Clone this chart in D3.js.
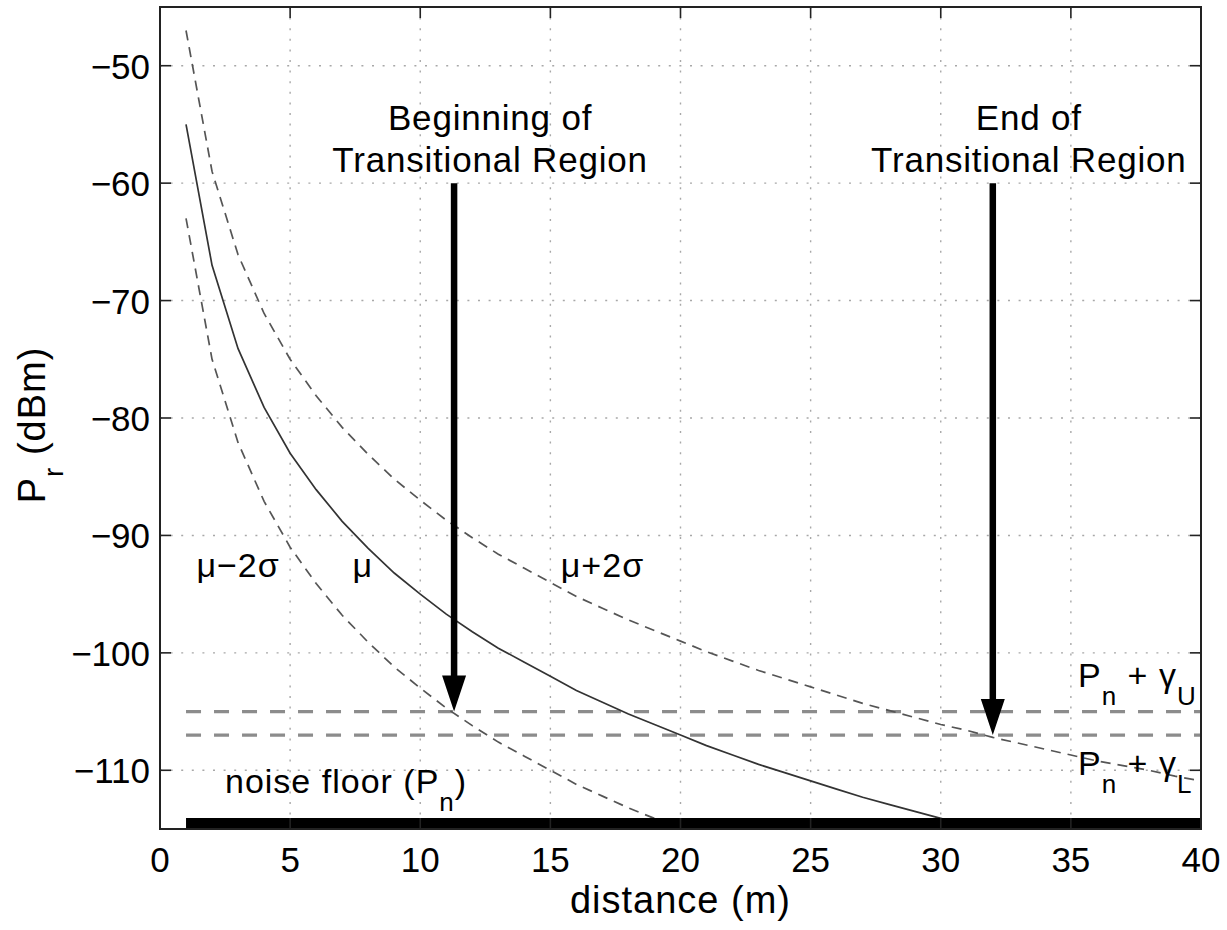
<!DOCTYPE html>
<html>
<head>
<meta charset="utf-8">
<script src="https://cdn.jsdelivr.net/npm/d3@7"></script>
<style>
  html, body { margin: 0; padding: 0; background: #fff; }
  svg { display: block; }
  text { font-family: "Liberation Sans", Arial, Helvetica, sans-serif; fill: #000; }
</style>
</head>
<body>
<svg id="chart" width="1227" height="930"></svg>
<script>
// Received power vs. distance (log-normal shadowing model) with noise-floor thresholds
const distance = [1,2,3,4,5,6,7,8,9,10,11,12,13,14,15,16,17,18,19,20,
                  21,22,23,24,25,26,27,28,29,30,31,32,33,34,35,36,37,38,39,40];
// mean received power, mu (dBm)
const meanPr = [-55.0,-67.0,-74.1,-79.1,-83.0,-86.1,-88.8,-91.1,-93.2,-95.0,
                -96.7,-98.2,-99.6,-100.8,-102.0,-103.2,-104.2,-105.2,-106.1,-107.0,
                -107.9,-108.7,-109.5,-110.2,-110.9,-111.6,-112.3,-112.9,-113.5,-114.1,
                -114.7,-115.2];
// mu + 2 sigma (dBm)
const upperPr = [-47.0,-59.0,-66.1,-71.1,-75.0,-78.1,-80.8,-83.1,-85.2,-87.0,
                 -88.7,-90.2,-91.6,-92.8,-94.0,-95.2,-96.2,-97.2,-98.1,-99.0,
                 -99.9,-100.7,-101.5,-102.2,-102.9,-103.6,-104.3,-104.9,-105.5,-106.1,
                 -106.6,-107.2,-107.7,-108.2,-108.7,-109.2,-109.6,-110.0,-110.5,-110.9];
// mu - 2 sigma (dBm)
const lowerPr = [-63.0,-75.0,-82.1,-87.1,-91.0,-94.1,-96.8,-99.1,-101.2,-103.0,
                 -104.7,-106.2,-107.6,-108.8,-110.0,-111.2,-112.2,-113.2,-114.1,-115.0,
                 -115.9];

const xTicks = [0,5,10,15,20,25,30,35,40];
const yTicks = [-110,-100,-90,-80,-70,-60,-50];
const xDomain = [0, 40];
const yDomain = [-115, -45];

const noiseFloor = -115;
const gammaUpper = -105;   // P_n + gamma_U
const gammaLower = -107;   // P_n + gamma_L
const lineStart = 1, lineEnd = 40;

const regionStarts = [11.3, 32];
const regionArrowTop = [-60, -60];
const regionArrowTip = [gammaUpper, gammaLower];
const regionLabels = [["Beginning of", "Transitional Region"], ["End of", "Transitional Region"]];

const curveLabels = ["μ−2σ", "μ", "μ+2σ"];
const curveLabelX = [1.4, 7.4, 15.4];
const curveLabelY = [-93.5, -93.5, -93.5];

const svg = d3.select("#chart");
const plotLeft = 160, plotRight = 1201, plotTop = 7, plotBottom = 829;

const x = d3.scaleLinear().domain(xDomain).range([plotLeft, plotRight]);
const y = d3.scaleLinear().domain(yDomain).range([plotBottom, plotTop]);

svg.append("defs").append("clipPath").attr("id", "plotClip")
  .append("rect").attr("x", plotLeft).attr("y", plotTop)
  .attr("width", plotRight - plotLeft).attr("height", plotBottom - plotTop);

// dotted grid
const grid = svg.append("g");
grid.selectAll("line.gx").data(xTicks.filter(t => t > xDomain[0] && t < xDomain[1])).join("line")
  .attr("class", "gx")
  .attr("x1", d => x(d)).attr("x2", d => x(d)).attr("y1", plotTop).attr("y2", plotBottom)
  .attr("stroke", "#a8a8a8").attr("stroke-width", 1.4).attr("stroke-dasharray", "2,8.6");
grid.selectAll("line.gy").data(yTicks).join("line")
  .attr("class", "gy")
  .attr("y1", d => y(d)).attr("y2", d => y(d)).attr("x1", plotLeft).attr("x2", plotRight)
  .attr("stroke", "#a8a8a8").attr("stroke-width", 1.4).attr("stroke-dasharray", "2,8.6");

const plot = svg.append("g").attr("clip-path", "url(#plotClip)");
const line = d3.line().x((d, i) => x(distance[i])).y(d => y(d));

// threshold lines
[gammaUpper, gammaLower].forEach(v => {
  plot.append("line")
    .attr("x1", x(lineStart)).attr("x2", x(lineEnd)).attr("y1", y(v)).attr("y2", y(v))
    .attr("stroke", "#8c8c8c").attr("stroke-width", 3.2).attr("stroke-dasharray", "15,13");
});

// curves
plot.append("path").datum(upperPr).attr("d", line)
  .attr("fill", "none").attr("stroke", "#555").attr("stroke-width", 1.7).attr("stroke-dasharray", "10,7");
plot.append("path").datum(lowerPr).attr("d", line)
  .attr("fill", "none").attr("stroke", "#555").attr("stroke-width", 1.7).attr("stroke-dasharray", "10,7");
plot.append("path").datum(meanPr).attr("d", line)
  .attr("fill", "none").attr("stroke", "#333").attr("stroke-width", 1.7);

// noise floor bar
plot.append("line")
  .attr("x1", x(lineStart)).attr("x2", x(lineEnd)).attr("y1", y(noiseFloor)).attr("y2", y(noiseFloor))
  .attr("stroke", "#000").attr("stroke-width", 22);

// arrows
regionStarts.forEach((d, i) => {
  const ax = x(d), y0 = y(regionArrowTop[i]), y1 = y(regionArrowTip[i]);
  const headLen = 36, headHalf = 12;
  svg.append("line").attr("x1", ax).attr("x2", ax).attr("y1", y0).attr("y2", y1 - headLen + 2)
    .attr("stroke", "#000").attr("stroke-width", 6.5);
  svg.append("path")
    .attr("d", `M${ax - headHalf},${y1 - headLen} L${ax + headHalf},${y1 - headLen} L${ax},${y1} Z`)
    .attr("fill", "#000");
  const t = svg.append("text").attr("text-anchor", "middle")
    .attr("font-size", 35).attr("letter-spacing", 0.8);
  t.append("tspan").attr("x", ax + 36).attr("y", 130).text(regionLabels[i][0]);
  t.append("tspan").attr("x", ax + 36).attr("y", 172).text(regionLabels[i][1]);
});

// curve labels
curveLabels.forEach((s, i) => {
  svg.append("text").attr("x", x(curveLabelX[i])).attr("y", y(curveLabelY[i]))
    .attr("font-size", 34).attr("letter-spacing", 1).text(s);
});

// subscripted labels
function subLabel(px, py, parts) {
  const t = svg.append("text").attr("x", px).attr("y", py).attr("font-size", 34).attr("letter-spacing", 1);
  let shift = 0;
  parts.forEach(([txt, sub]) => {
    const target = sub ? 18 : 0;
    t.append("tspan").attr("dy", target - shift).attr("font-size", sub ? 26 : 34).text(txt);
    shift = target;
  });
  return t;
}
subLabel(1078, 687, [["P", false], ["n", true], [" + γ", false], ["U", true]]);
subLabel(1078, 775, [["P", false], ["n", true], [" + γ", false], ["L", true]]);
subLabel(225, 793, [["noise floor (P", false], ["n", true], [")", false]]);

// frame
svg.append("rect").attr("x", plotLeft).attr("y", plotTop)
  .attr("width", plotRight - plotLeft).attr("height", plotBottom - plotTop)
  .attr("fill", "none").attr("stroke", "#222").attr("stroke-width", 2);

// ticks on all sides (inward)
const tickLen = 11;
const ticks = svg.append("g").attr("stroke", "#222").attr("stroke-width", 1.6);
xTicks.forEach(t => {
  ticks.append("line").attr("x1", x(t)).attr("x2", x(t)).attr("y1", plotBottom).attr("y2", plotBottom - tickLen);
  ticks.append("line").attr("x1", x(t)).attr("x2", x(t)).attr("y1", plotTop).attr("y2", plotTop + tickLen);
});
yTicks.forEach(t => {
  ticks.append("line").attr("y1", y(t)).attr("y2", y(t)).attr("x1", plotLeft).attr("x2", plotLeft + tickLen);
  ticks.append("line").attr("y1", y(t)).attr("y2", y(t)).attr("x1", plotRight).attr("x2", plotRight - tickLen);
});

// tick labels
svg.append("g").selectAll("text").data(xTicks).join("text")
  .attr("x", d => x(d)).attr("y", plotBottom + 43).attr("text-anchor", "middle")
  .attr("font-size", 35).text(d => d3.format("d")(d));
svg.append("g").selectAll("text").data(yTicks).join("text")
  .attr("x", plotLeft - 10).attr("y", d => y(d) + 13).attr("text-anchor", "end")
  .attr("font-size", 35).text(d => String(d).replace("-", "−"));

// axis labels
svg.append("text").attr("x", (plotLeft + plotRight) / 2).attr("y", 913).attr("text-anchor", "middle")
  .attr("font-size", 38).attr("letter-spacing", 1).text("distance (m)");

const yl = svg.append("text").attr("transform", "translate(45,425) rotate(-90)")
  .attr("text-anchor", "middle").attr("font-size", 38).attr("letter-spacing", 1);
yl.append("tspan").text("P");
yl.append("tspan").attr("dy", 18).attr("font-size", 28).text("r");
yl.append("tspan").attr("dy", -18).text(" (dBm)");
</script>
</body>
</html>
